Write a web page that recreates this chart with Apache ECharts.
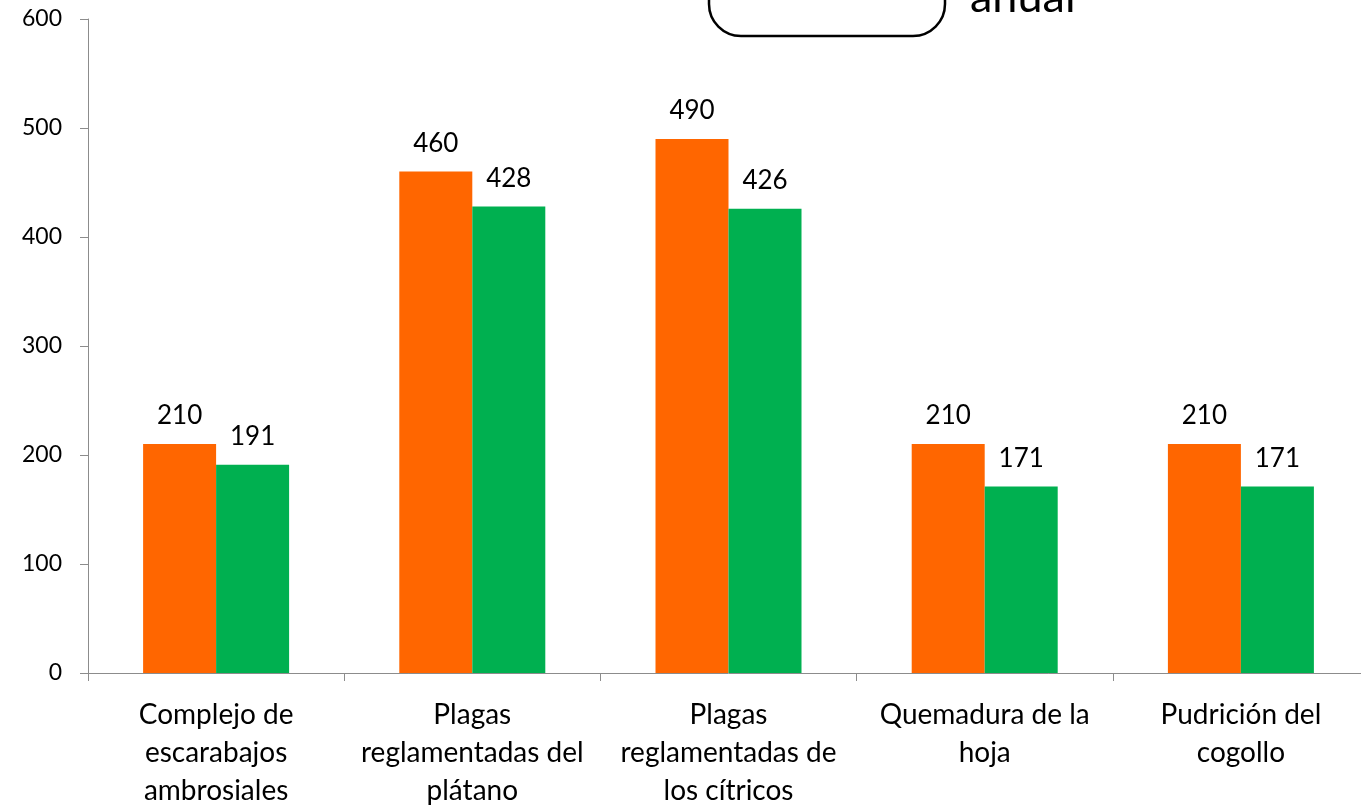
<!DOCTYPE html>
<html>
<head>
<meta charset="utf-8">
<script src="https://cdn.jsdelivr.net/npm/echarts@6/dist/echarts.min.js"></script>
<style>
html,body{margin:0;padding:0;background:#fff;overflow:hidden;width:1361px;height:811px;}
#chart{width:1369px;height:811px;}
</style>
</head>
<body>
<div id="chart"></div>
<script>
const categories = [
  "Complejo de\nescarabajos\nambrosiales",
  "Plagas\nreglamentadas del\nplátano",
  "Plagas\nreglamentadas de\nlos cítricos",
  "Quemadura de la\nhoja",
  "Pudrición del\ncogollo"
];
const seriesNames = ["Meta", "Ejecución anual"];
const seriesA = [210, 460, 490, 210, 210];
const seriesB = [191, 428, 426, 171, 171];
const colors = ["#FF6600", "#00B050"];
const fontFam = "Lato, 'Open Sans', sans-serif";

const chart = echarts.init(document.getElementById('chart'));
const labelCfg = {show: true, position: 'top', distance: 15, color: '#000', fontSize: 26, fontFamily: fontFam};
chart.setOption({
  animation: false,
  grid: {left: 88, top: 19, right: 0, bottom: 138, containLabel: false},
  xAxis: {
    type: 'category',
    data: categories,
    axisLine: {lineStyle: {color: '#8c8c8c', width: 1}},
    axisTick: {show: true, length: 8, lineStyle: {color: '#8c8c8c'}},
    axisLabel: {color: '#000', fontSize: 28, lineHeight: 38, margin: 23, fontFamily: fontFam, interval: 0}
  },
  yAxis: {
    type: 'value',
    min: 0, max: 600, interval: 100,
    axisLine: {show: true, lineStyle: {color: '#8c8c8c', width: 1}},
    axisTick: {show: true, length: 8, lineStyle: {color: '#8c8c8c'}},
    splitLine: {show: false},
    axisLabel: {color: '#000', fontSize: 23, margin: 26, fontFamily: fontFam}
  },
  series: [
    {name: seriesNames[0], type: 'bar', data: seriesA, barWidth: 73, barGap: '0%', itemStyle: {color: colors[0]}, label: labelCfg},
    {name: seriesNames[1], type: 'bar', data: seriesB, barWidth: 73, barGap: '0%', itemStyle: {color: colors[1]}, label: labelCfg}
  ],
  graphic: [
    {type: 'rect', shape: {x: 709, y: -60, width: 236, height: 96, r: 32}, style: {fill: '#fff', stroke: '#000', lineWidth: 2.5}},
    {type: 'text', x: 970, y: -3, style: {text: 'anual', fontSize: 45, fontFamily: fontFam, fill: '#000', verticalAlign: 'middle', align: 'left'}}
  ]
});
</script>
</body>
</html>
